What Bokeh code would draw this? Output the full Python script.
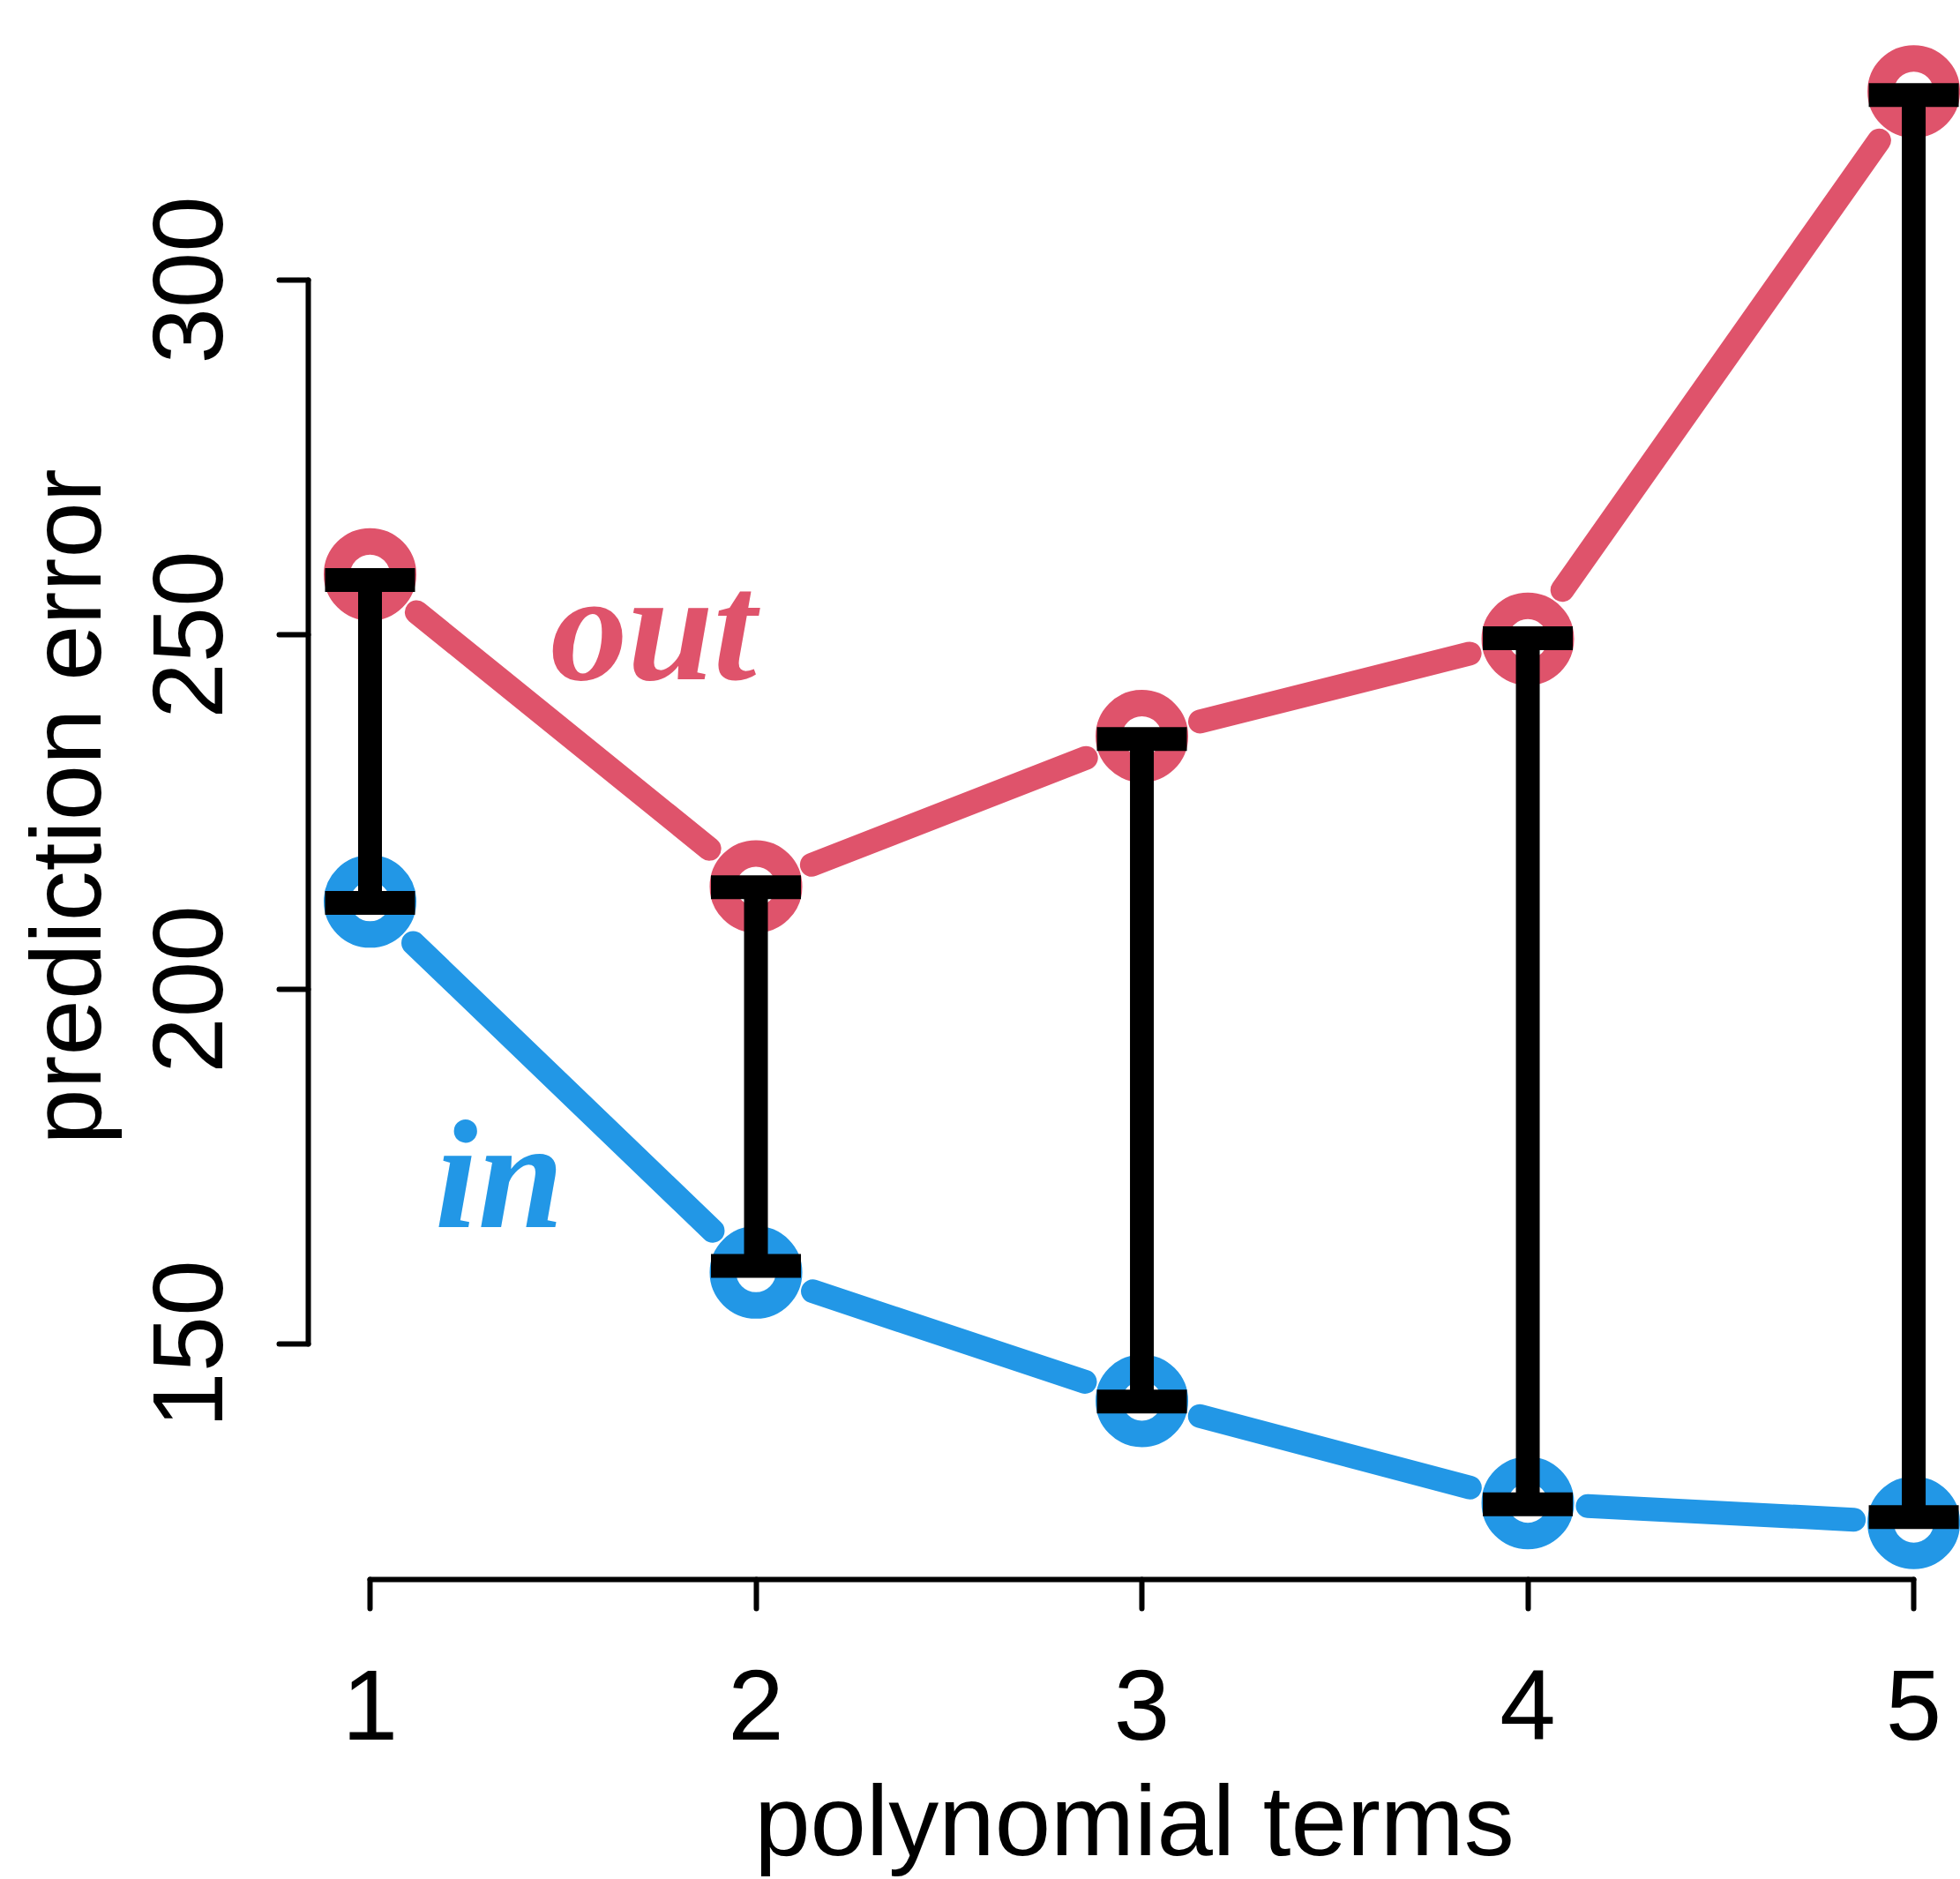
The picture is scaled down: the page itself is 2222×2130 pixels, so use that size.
import math

from bokeh.core.properties import value
from bokeh.embed import file_html
from bokeh.models import FixedTicker, Range1d
from bokeh.plotting import figure
from bokeh.resources import INLINE

# --- data -------------------------------------------------------------
terms = [1, 2, 3, 4, 5]
error_in = [212.4, 160.1, 142.0, 127.6, 124.8]
error_out = [258.5, 214.5, 235.7, 249.4, 326.6]
bar_low = [212.2, 161.0, 141.9, 127.4, 125.6]
bar_high = [257.7, 214.4, 235.3, 249.5, 326.1]

x_ticks = [1, 2, 3, 4, 5]
y_ticks = [150, 200, 250, 300]

series_names = ["in", "out"]
name_x = [1.335, 1.734]
name_y = [173.8, 251.0]

x_title = "polynomial terms"
y_title = "prediction error"

RED = "#DF536B"
BLUE = "#2297E6"
SANS = "Liberation Sans"

# --- geometry -----------------------------------------------------------
W, H = 2222, 2130
LEFT, RIGHT, TOP, BOTTOM = 349, 0, 38, 340
X0, X1 = 0.84, 5.121
Y0, Y1 = 116.8, 334.7
SX = (W - LEFT - RIGHT) / (X1 - X0)   # px per x unit
SY = (H - TOP - BOTTOM) / (Y1 - Y0)   # px per y unit


def gapped_segments(xs, ys, gap=68.0):
    """Segments between consecutive points, pulled back by `gap` px at each end."""
    x0s, y0s, x1s, y1s = [], [], [], []
    for i in range(len(xs) - 1):
        dx = (xs[i + 1] - xs[i]) * SX
        dy = (ys[i + 1] - ys[i]) * SY
        length = math.hypot(dx, dy)
        ux, uy = dx / length, dy / length
        x0s.append(xs[i] + ux * gap / SX)
        y0s.append(ys[i] + uy * gap / SY)
        x1s.append(xs[i + 1] - ux * gap / SX)
        y1s.append(ys[i + 1] - uy * gap / SY)
    return x0s, y0s, x1s, y1s


p = figure(
    width=W, height=H,
    x_range=Range1d(X0, X1), y_range=Range1d(Y0, Y1),
    output_backend="svg", toolbar_location=None,
    min_border_left=LEFT, min_border_right=RIGHT,
    min_border_top=TOP, min_border_bottom=BOTTOM,
    background_fill_color="white", border_fill_color="white",
)
p.grid.visible = False
p.outline_line_color = None

# series lines with gaps around the points
for ys, col in ((error_out, RED), (error_in, BLUE)):
    x0s, y0s, x1s, y1s = gapped_segments(terms, ys)
    p.segment(x0s, y0s, x1s, y1s, line_color=col, line_width=27, line_cap="round")
    p.scatter(terms, ys, marker="circle", size=75, fill_color=None,
              line_color=col, line_width=30)

# black interval bars with flat caps
p.segment(terms, bar_low, terms, bar_high, line_color="black", line_width=27)
p.rect(terms, bar_low, width=102, height=27, width_units="screen",
       height_units="screen", fill_color="black", line_color=None)
p.rect(terms, bar_high, width=102, height=27, width_units="screen",
       height_units="screen", fill_color="black", line_color=None)

# series names
p.text(name_x, name_y, text=series_names, text_color=[BLUE, RED],
       text_font=value("Liberation Serif"), text_font_style="bold italic",
       text_font_size="175px", text_align="center", text_baseline="alphabetic")

# axes
for ax, ticks, bounds in ((p.xaxis[0], x_ticks, (1, 5)), (p.yaxis[0], y_ticks, (150, 300))):
    ax.ticker = FixedTicker(ticks=ticks)
    ax.bounds = bounds
    ax.minor_tick_line_color = None
    ax.axis_line_width = 6
    ax.axis_line_cap = "round"
    ax.major_tick_line_width = 6
    ax.major_tick_line_cap = "round"
    ax.major_tick_in = 0
    ax.major_tick_out = 33
    ax.major_label_text_font = SANS
    ax.major_label_text_font_size = "114px"
    ax.major_label_text_color = "black"
    ax.axis_label_text_font = SANS
    ax.axis_label_text_font_size = "114px"
    ax.axis_label_text_font_style = "normal"
    ax.axis_label_text_color = "black"

p.xaxis.axis_label = x_title
p.xaxis.major_label_standoff = 70
p.xaxis.axis_label_standoff = 25

p.yaxis.axis_label = y_title
p.yaxis.major_label_orientation = "vertical"
p.yaxis.major_label_standoff = 64
p.yaxis.axis_label_standoff = 34

open("out.html", "w").write(file_html(p, INLINE))
